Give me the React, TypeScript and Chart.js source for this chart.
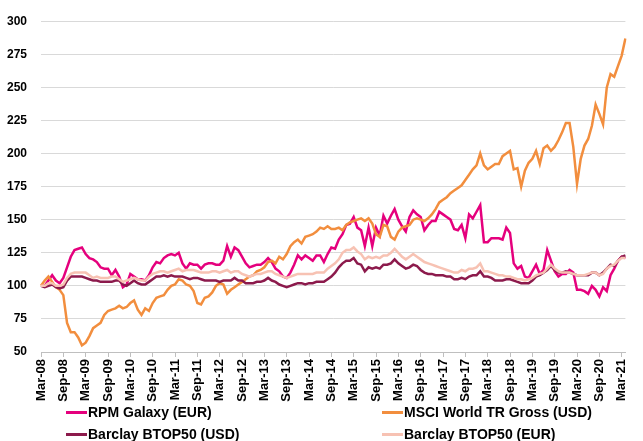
import React, { useEffect, useRef } from 'react';
import { Chart, registerables } from 'chart.js';

Chart.register(...registerables);

// ---- categories (monthly, Mar-08 .. Apr-21) ----
const MONTH_NAMES = ['Jan', 'Feb', 'Mar', 'Apr', 'May', 'Jun', 'Jul', 'Aug', 'Sep', 'Oct', 'Nov', 'Dec'];
const START_YEAR = 2008;
const START_MONTH = 2; // March
const MONTH_COUNT = 158;
const months: string[] = Array.from({ length: MONTH_COUNT }, (_, i) => {
  const m = (START_MONTH + i) % 12;
  const y = START_YEAR + Math.floor((START_MONTH + i) / 12);
  return `${MONTH_NAMES[m]}-${String(y % 100).padStart(2, '0')}`;
});
const LABEL_EVERY = 6; // Mar / Sep tick labels

// ---- series values ----
const rpmGalaxyEur = [
  100, 100, 104, 108, 104, 102, 106, 114, 122, 127,
  128, 129, 124, 121, 120, 118, 114, 113, 113, 108,
  112, 107, 99, 101, 109, 107, 105, 105, 104, 108,
  114, 118, 117, 121, 123, 124, 123, 125, 117, 113,
  117, 116, 116, 113, 116, 117, 117, 116, 116, 119,
  130, 122, 129, 127, 122, 117, 114, 115, 116, 116,
  118, 121, 118, 113, 111, 107, 106, 110, 116, 123,
  120, 123, 121, 119, 123, 123, 118, 124, 129, 128,
  135, 139, 146, 147, 152, 144, 142, 130, 144, 130,
  144, 138, 153, 147, 153, 158, 150, 145, 141, 152,
  157, 154, 152, 142, 146, 149, 149, 156, 154, 152,
  150, 143, 142, 146, 136, 154, 151, 156, 161, 133,
  133, 136, 136, 136, 135, 144, 140, 117, 113, 115,
  107, 106, 111, 116, 109, 112, 127, 119, 111, 107,
  109, 109, 112, 110, 97, 97, 96, 94, 100, 97,
  92, 99, 96, 108, 113, 119, 122, 121,
];

const msciWorldUsd = [
  100, 104, 107, 103, 99, 97, 93, 72, 65, 65,
  61, 55, 57, 62, 68, 70, 72, 78, 81, 82,
  83, 85, 83, 84, 87, 89, 82, 78, 83, 81,
  87, 91, 92, 93, 97, 100, 101, 105, 104, 101,
  100, 96, 87, 86, 91, 92, 95, 100, 102, 101,
  94, 97, 99, 101, 103, 105, 107, 108, 111, 112,
  114, 118, 119, 117, 122, 120, 124, 130, 133, 135,
  132, 137, 138, 139, 141, 144, 143, 145, 143, 143,
  144, 142, 146, 148, 149, 150, 151, 149, 151, 147,
  139, 137, 146, 145, 137, 135, 141, 144, 145, 146,
  150, 151, 150, 149, 151, 154, 158, 163, 165, 167,
  170, 172, 174, 176, 180, 184, 188, 191, 200, 191,
  188, 190, 192, 192, 198, 200, 202, 188, 189, 175,
  187, 193, 196, 202, 192, 204, 206, 202, 205, 210,
  216, 223, 223, 205, 177, 196, 206, 211, 221, 237,
  230, 222, 250, 260, 258, 266, 274, 287,
];

const btop50Usd = [
  100, 99, 100, 101, 99, 98, 99, 104, 107, 107,
  107, 107, 106, 105, 104, 104, 103, 103, 103, 103,
  104, 104, 101, 100, 102, 104, 102, 101, 101, 103,
  105, 107, 107, 108, 107, 108, 107, 107, 107, 106,
  105, 106, 106, 105, 104, 104, 104, 104, 103, 104,
  104, 104, 106, 104, 104, 102, 102, 102, 103, 103,
  104, 106, 104, 103, 101, 100, 99, 100, 101, 102,
  102, 101, 102, 102, 103, 103, 103, 105, 107, 110,
  114, 117, 119, 119, 121, 117, 116, 111, 114, 113,
  114, 113, 116, 116, 117, 120, 117, 115, 113, 114,
  116, 115, 112, 110, 109, 109, 108, 108, 108, 107,
  107, 105, 105, 106, 105, 107, 108, 108, 111, 107,
  107, 106, 104, 104, 104, 105, 105, 104, 103, 102,
  102, 102, 104, 107, 108, 110, 112, 115, 112, 110,
  110, 111, 110, 109, 108, 108, 108, 108, 110, 110,
  108, 110, 113, 116, 115, 119, 122, 123,
];

const btop50Eur = [
  100, 100, 102, 102, 100, 100, 101, 106, 109, 110,
  110, 110, 110, 108, 106, 107, 106, 106, 106, 107,
  107, 105, 103, 104, 105, 106, 105, 104, 104, 107,
  109, 110, 111, 111, 110, 111, 112, 113, 111, 112,
  112, 112, 111, 110, 110, 110, 111, 111, 110, 111,
  112, 110, 111, 111, 109, 108, 107, 108, 109, 109,
  110, 111, 111, 109, 108, 107, 106, 107, 108, 109,
  109, 109, 109, 109, 110, 110, 110, 113, 115, 117,
  120, 125, 127, 127, 129, 126, 124, 120, 122, 121,
  122, 121, 123, 123, 125, 128, 125, 122, 120, 122,
  124, 122, 120, 118, 117, 116, 115, 114, 113, 112,
  111, 110, 110, 112, 111, 113, 113, 114, 117, 111,
  111, 110, 109, 108, 108, 107, 107, 106, 105, 105,
  104, 105, 106, 108, 109, 110, 113, 116, 113, 111,
  110, 110, 110, 109, 108, 108, 108, 109, 110, 110,
  108, 109, 113, 115, 116, 119, 121, 121,
];

// ---- axis ----
const Y_MIN = 50;
const Y_MAX = 300;
const Y_STEP = 25;

// ---- series meta ----
const seriesNames = ['RPM Galaxy (EUR)', 'MSCI World TR Gross (USD)', 'Barclay BTOP50 (USD)', 'Barclay BTOP50 (EUR)'];
const seriesColors = ['#e5007d', '#f28e3e', '#8c1a4c', '#f7c2b3'];
const seriesValues = [rpmGalaxyEur, msciWorldUsd, btop50Usd, btop50Eur];

const FONT = "'Liberation Sans', Arial, sans-serif";

export default function App() {
  const canvasRef = useRef<HTMLCanvasElement | null>(null);

  useEffect(() => {
    const canvas = canvasRef.current;
    if (!canvas) return;
    const chart = new Chart(canvas, {
      type: 'line',
      data: {
        labels: months,
        datasets: seriesValues.map((vals, i) => ({
          label: seriesNames[i],
          data: vals,
          borderColor: seriesColors[i],
          backgroundColor: seriesColors[i],
          borderWidth: 2.5,
          pointRadius: 0,
          tension: 0,
          fill: false,
          order: seriesValues.length - 1 - i,
        })),
      },
      options: {
        animation: false,
        responsive: false,
        maintainAspectRatio: false,
        layout: { padding: { top: 16, right: 2, left: 0, bottom: 0 } },
        plugins: { legend: { display: false }, tooltip: { enabled: false } },
        scales: {
          x: {
            type: 'category',
            offset: false,
            grid: {
              drawOnChartArea: false,
              drawTicks: true,
              tickLength: 5,
              lineWidth: 1,
              color: (ctx: any) => (ctx.index % LABEL_EVERY === 0 ? '#bfbfbf' : 'rgba(0,0,0,0)'),
            },
            border: { display: true, color: '#bfbfbf', width: 1 },
            ticks: {
              autoSkip: false,
              maxRotation: 90,
              minRotation: 90,
              padding: 2,
              color: '#000',
              font: { family: FONT, size: 13, weight: 'bold' },
              callback: (_v: any, i: number) => (i % LABEL_EVERY === 0 ? months[i] : ''),
            },
            afterFit: (s: any) => {
              s.height = 89;
            },
          },
          y: {
            min: Y_MIN,
            max: Y_MAX,
            border: { display: false },
            grid: { color: '#d9d9d9', lineWidth: 1, drawTicks: false },
            ticks: {
              stepSize: Y_STEP,
              padding: 14,
              color: '#000',
              font: { family: FONT, size: 12, weight: 'bold' },
            },
            afterFit: (s: any) => {
              s.width = 41;
            },
          },
        },
      },
    });
    return () => chart.destroy();
  }, []);

  const legendPos = [
    { left: 66, top: 412 },
    { left: 382, top: 412 },
    { left: 66, top: 434 },
    { left: 382, top: 434 },
  ];

  return (
    <div style={{ position: 'absolute', left: 0, top: 0, width: 643, height: 441, background: '#fff' }}>
      <canvas ref={canvasRef} width={643} height={441} style={{ display: 'block', width: 643, height: 441 }} />
      {seriesNames.map((name, i) => (
        <div
          key={name}
          style={{
            position: 'absolute',
            left: legendPos[i].left,
            top: legendPos[i].top,
            transform: 'translateY(-50%)',
            display: 'flex',
            alignItems: 'center',
            whiteSpace: 'nowrap',
            fontFamily: FONT,
            fontWeight: 'bold',
            fontSize: 14,
            color: '#000',
            lineHeight: '16px',
          }}
        >
          <span style={{ display: 'inline-block', width: 21, height: 3, background: seriesColors[i], marginRight: 1 }} />
          <span>{name}</span>
        </div>
      ))}
    </div>
  );
}
